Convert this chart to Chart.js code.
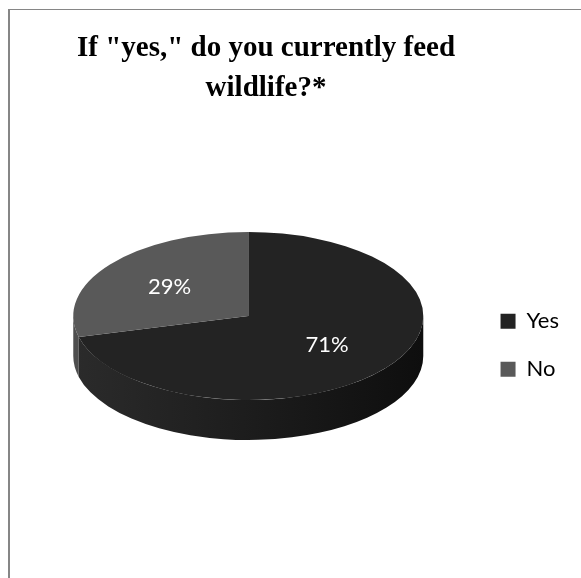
<!DOCTYPE html>
<html>
<head>
<meta charset="utf-8">
<title>If "yes," do you currently feed wildlife?</title>
<script src="https://cdn.jsdelivr.net/npm/chart.js@4.4.1/dist/chart.umd.min.js"></script>
<style>
  html, body { margin: 0; padding: 0; background: #fff; overflow: hidden; }
  #wrap { position: relative; width: 581px; height: 578px; }
  #chart { position: absolute; left: 0; top: 0; }
  #frame {
    position: absolute; left: 8px; top: 9px; width: 640px; height: 640px;
    border-left: 2px solid #868686; border-top: 1px solid #868686;
    pointer-events: none;
  }
</style>
</head>
<body>
<div id="wrap">
  <canvas id="chart" width="581" height="578"></canvas>
  <div id="frame"></div>
</div>
<script>
const answers = ['Yes', 'No'];
const shares = [71, 29];
const sliceColors = ['#232323', '#595959'];
// wall shading, left -> right
const wallColors = [
	['#2b2b2b', '#1e1e1e', '#0e0e0e'],
	['#4e4e4e', '#444444', '#383838'],
];

const TILT = 0.48; // vertical squash of the pie face
const DEPTH = 40; // wall thickness in px
const LABEL_POS = 0.57; // label distance from centre, fraction of radius

// parts of an arc that lie on the front half (canvas angles 0..PI)
function frontSpans(start, end) {
	const spans = [];
	for (let k = -1; k <= 1; k++) {
		const lo = Math.max(start, k * 2 * Math.PI);
		const hi = Math.min(end, k * 2 * Math.PI + Math.PI);
		if (hi > lo) spans.push([lo, hi]);
	}
	return spans;
}

const pie3d = {
	id: 'pie3d',
	afterLayout(chart) {
		// title sits a little left of centre, over the pie and legend
		chart.titleBlock.left = 0;
		chart.titleBlock.right = 532;
	},
	beforeDatasetsDraw(chart) {
		const ctx = chart.ctx;
		const arcs = chart.getDatasetMeta(0).data;
		const { x: cx, y: cy, outerRadius: R } = arcs[0];
		const r = R * TILT;

		// outer wall of each slice
		arcs.forEach((arc, i) => {
			frontSpans(arc.startAngle, arc.endAngle).forEach(([a, b]) => {
				const g = ctx.createLinearGradient(cx - R, 0, cx + R, 0);
				g.addColorStop(0, wallColors[i][0]);
				g.addColorStop(0.45, wallColors[i][1]);
				g.addColorStop(1, wallColors[i][2]);
				ctx.fillStyle = g;
				ctx.beginPath();
				ctx.ellipse(cx, cy, R, r, 0, a, b);
				ctx.ellipse(cx, cy + DEPTH, R, r, 0, b, a, true);
				ctx.closePath();
				ctx.fill();
			});
		});

		// squash the top face into an ellipse
		ctx.save();
		ctx.translate(0, cy);
		ctx.scale(1, TILT);
		ctx.translate(0, -cy);
	},
	afterDatasetsDraw(chart) {
		const ctx = chart.ctx;
		ctx.restore();

		const arcs = chart.getDatasetMeta(0).data;
		const total = shares.reduce((a, b) => a + b, 0);
		ctx.save();
		ctx.fillStyle = '#ffffff';
		ctx.font = '22px Lato';
		ctx.textAlign = 'center';
		ctx.textBaseline = 'middle';
		arcs.forEach((arc, i) => {
			const mid = (arc.startAngle + arc.endAngle) / 2;
			const d = arc.outerRadius * LABEL_POS;
			const x = arc.x + Math.cos(mid) * d;
			const y = arc.y + Math.sin(mid) * d * TILT;
			ctx.fillText(Math.round((shares[i] / total) * 100) + '%', x, y);
		});
		ctx.restore();
	},
};

Chart.defaults.font.family = 'Lato';

new Chart(document.querySelector('#chart'), {
	type: 'pie',
	data: {
		labels: answers,
		datasets: [
			{
				data: shares,
				backgroundColor: sliceColors,
				borderWidth: 0,
				radius: 175,
				clip: false,
			},
		],
	},
	options: {
		responsive: false,
		animation: false,
		events: [],
		layout: {
			padding: { left: 22, right: 12, top: 0, bottom: 65 },
		},
		plugins: {
			title: {
				display: true,
				text: ['If "yes," do you currently feed', 'wildlife?*'],
				color: '#000000',
				font: {
					family: "'Liberation Serif', 'Times New Roman', serif",
					size: 29,
					weight: 'bold',
					lineHeight: 40 / 29,
				},
				padding: { top: 29, bottom: 10 },
			},
			legend: {
				position: 'right',
				align: 'center',
				fullSize: false,
				title: {
					display: true,
					text: '',
					font: { size: 12 },
					padding: { top: 22, bottom: 22 },
				},
				labels: {
					boxWidth: 15,
					boxHeight: 15,
					padding: 26,
					color: '#000000',
					font: { family: 'Lato', size: 22 },
				},
			},
			tooltip: { enabled: false },
		},
	},
	plugins: [pie3d],
});
</script>
</body>
</html>
